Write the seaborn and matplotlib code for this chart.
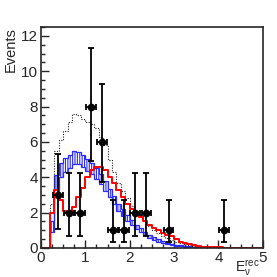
import numpy as np
import pandas as pd
import matplotlib
matplotlib.use("Agg")
import matplotlib.pyplot as plt
import seaborn as sns
from matplotlib.ticker import MultipleLocator

# ---- data ----
bin_edges = [round(0.1 * i, 1) for i in range(0, 51)]
red_vals = [0, 0, 2.0, 3.3, 2.7, 2.1, 2.0, 2.3, 2.9, 3.4,
            4.0, 4.4, 4.6, 4.6, 4.4, 4.0, 3.7, 3.3, 2.9, 2.5,
            2.2, 2.0, 1.75, 1.5, 1.3, 1.15, 1.0, 0.85, 0.75, 0.65,
            0.5, 0.35, 0.28, 0.2, 0.15, 0.1, 0.07, 0.05, 0.04, 0.03,
            0.03, 0.02, 0.02, 0.02, 0.01, 0.01, 0.01, 0.01, 0.01, 0.01]
dot_vals = [0, 0, 2.5, 5.5, 6.1, 6.6, 7.1, 7.6, 7.5, 7.3,
            7.1, 7.0, 6.8, 6.3, 5.8, 5.0, 4.3, 3.7, 3.2, 2.8,
            2.4, 2.1, 1.8, 1.5, 1.25, 1.0, 0.85, 0.7, 0.55, 0.45,
            0.35, 0.27, 0.2, 0.15, 0.1, 0.07, 0.05, 0.04, 0.03, 0.02,
            0.02, 0.01, 0.01, 0.01, 0.01, 0.01, 0.0, 0.0, 0.0, 0.0]
blue_vals = [0, 0, 1.2, 3.7, 4.4, 4.7, 4.9, 5.1, 5.1, 4.9,
             4.7, 4.5, 4.2, 3.9, 3.5, 3.1, 2.7, 2.3, 2.0, 1.7,
             1.45, 1.2, 1.0, 0.8, 0.65, 0.52, 0.42, 0.33, 0.26, 0.2,
             0.15, 0.12, 0.09, 0.07, 0.05, 0.04, 0.03, 0.02, 0.02, 0.01,
             0.01, 0.01, 0.01, 0.0, 0.0, 0.0, 0.0, 0.0, 0.0, 0.0]
blue_err = [0, 0, 0.3, 0.4, 0.4, 0.4, 0.38, 0.36, 0.35, 0.34,
            0.33, 0.32, 0.3, 0.28, 0.26, 0.24, 0.22, 0.2, 0.18, 0.16,
            0.14, 0.12, 0.1, 0.09, 0.08, 0.07, 0.06, 0.05, 0.04, 0.03,
            0.03, 0.02, 0.02, 0.02, 0.01, 0.01, 0.01, 0.01, 0.01, 0.01,
            0.01, 0.0, 0.0, 0.0, 0.0, 0.0, 0.0, 0.0, 0.0, 0.0]

data_x = [0.375, 0.625, 0.875, 1.125, 1.375, 1.625, 1.875, 2.125, 2.375, 2.875, 4.125]
data_y = [3, 2, 2, 8, 6, 1, 1, 2, 2, 1, 1]
data_up = [5.3, 4.25, 4.25, 11.3, 9.3, 2.7, 2.7, 4.25, 4.25, 2.7, 2.7]
data_lo = [1.07, 0.7, 0.7, 4.9, 3.75, 0.32, 0.32, 0.7, 0.7, 0.32, 0.32]
x_err = 0.11

x_ticks = [0, 1, 2, 3, 4, 5]
y_ticks = [0, 2, 4, 6, 8, 10, 12]

# ---- plot ----
sns.set_style("ticks")
plt.rcParams["font.family"] = ["Liberation Sans", "DejaVu Sans"]
plt.rcParams["hatch.linewidth"] = 0.8

fig = plt.figure(figsize=(2.77, 2.77), dpi=100)
ax = fig.add_axes([0.148, 0.105, 0.801, 0.7975])

edges = np.array(bin_edges)
centers = (edges[:-1] + edges[1:]) / 2
df = pd.DataFrame({"x": centers, "red": red_vals, "dot": dot_vals,
                   "blue": blue_vals, "berr": blue_err})

# blue band
lo = np.array(blue_vals) - np.array(blue_err)
hi = np.array(blue_vals) + np.array(blue_err)
ax.fill_between(edges, np.append(lo, lo[-1]), np.append(hi, hi[-1]), step="post",
                facecolor="white", edgecolor="#2a2aff", hatch="|" * 7, linewidth=0.0)
ax.stairs(hi, edges, color="#2a2aff", linewidth=0.9)
ax.stairs(lo, edges, color="#2a2aff", linewidth=0.9)

sns.histplot(data=df, x="x", weights="dot", bins=list(bin_edges), element="step", fill=False,
             color="#222222", linestyle=(0, (1, 1.3)), linewidth=0.8, ax=ax)
sns.histplot(data=df, x="x", weights="red", bins=list(bin_edges), element="step", fill=False,
             color="red", linewidth=1.4, ax=ax)

yerr = [np.array(data_y) - np.array(data_lo), np.array(data_up) - np.array(data_y)]
ax.errorbar(data_x, data_y, yerr=yerr, xerr=x_err, fmt="o", color="black",
            markersize=4.5, elinewidth=1.3, capsize=2.5, capthick=1.3, zorder=5)

ax.set_xlim(0, 5)
ax.set_ylim(0, 12.5)
ax.set_xticks(x_ticks)
ax.set_yticks(y_ticks)
ax.xaxis.set_minor_locator(MultipleLocator(0.25))
ax.yaxis.set_minor_locator(MultipleLocator(0.5))
ax.tick_params(which="major", direction="in", length=6, width=1, labelsize=11, pad=2)
ax.tick_params(which="minor", direction="in", length=3, width=1)
for s in ax.spines.values():
    s.set_linewidth(1.2)
ax.set_xlabel(r"$\mathregular{E_{\nu}^{rec}}$", fontsize=10)
ax.xaxis.set_label_coords(0.985, -0.048)
ax.xaxis.label.set_horizontalalignment("right")
ax.set_ylabel("Events", fontsize=10.5)
ax.yaxis.set_label_coords(-0.105, 1.0)
ax.yaxis.label.set_verticalalignment("bottom")
ax.yaxis.label.set_horizontalalignment("right")

fig.savefig("out.png", dpi=100)
